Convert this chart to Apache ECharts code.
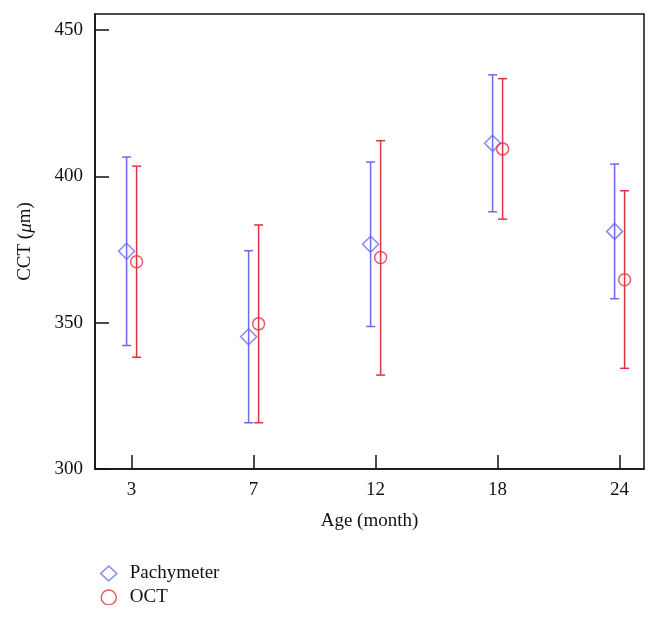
<!DOCTYPE html>
<html>
<head>
<meta charset="utf-8">
<script src="https://cdn.jsdelivr.net/npm/echarts@6/dist/echarts.min.js"></script>
<style>
html,body{margin:0;padding:0;background:#fff;}
#wrap{width:660px;height:605px;overflow:hidden;}
#c{width:660px;height:618px;}
</style>
</head>
<body>
<div id="wrap"><div id="c"></div></div>
<script>
var categories = ['3', '7', '12', '18', '24'];
var yTicks = [300, 350, 400, 450];
var pachyMean = [374.4, 345.2, 376.8, 411.3, 381.2];
var pachyLow  = [342.2, 315.8, 348.7, 387.9, 358.2];
var pachyHigh = [406.6, 374.6, 404.9, 434.7, 404.2];
var octMean = [370.8, 349.6, 372.3, 409.4, 364.7];
var octLow  = [338.2, 315.8, 332.1, 385.4, 334.4];
var octHigh = [403.5, 383.4, 412.2, 433.4, 395.1];

var BLUE = '#6a6aee';
var RED = '#e2343c';
var FONT = '"Liberation Serif", "DejaVu Serif", serif';
var FS = 19;

function idx(arr) { return arr.map(function (v, i) { return [i, v]; }); }
function errData(lo, hi) { return lo.map(function (v, i) { return [i, v, hi[i]]; }); }

function errRender(dx, color) {
  return function (params, api) {
    var x = api.value(0);
    var lo = api.coord([x, api.value(1)]);
    var hi = api.coord([x, api.value(2)]);
    var cx = lo[0] + dx;
    var cap = 4.5;
    var style = { stroke: color, lineWidth: 1.5, fill: null };
    return {
      type: 'group',
      children: [
        { type: 'line', shape: { x1: cx, y1: lo[1], x2: cx, y2: hi[1] }, style: style },
        { type: 'line', shape: { x1: cx - cap, y1: lo[1], x2: cx + cap, y2: lo[1] }, style: style },
        { type: 'line', shape: { x1: cx - cap, y1: hi[1], x2: cx + cap, y2: hi[1] }, style: style }
      ]
    };
  };
}

var chart = echarts.init(document.getElementById('c'), null, { renderer: 'canvas' });
chart.setOption({
  animation: false,
  backgroundColor: '#fff',
  textStyle: { fontFamily: FONT },
  grid: { left: 95, top: 14, right: 16, bottom: 149, show: true, borderColor: '#111', borderWidth: 1.5 },
  xAxis: {
    type: 'value', min: -0.3, max: 4.2,
    name: 'Age (month)', nameLocation: 'middle', nameGap: 43,
    nameTextStyle: { fontFamily: FONT, fontSize: FS, color: '#111' },
    axisLine: { show: true, onZero: false, lineStyle: { color: '#111', width: 1.5 } },
    axisTick: { show: true, inside: true, length: 14, lineStyle: { color: '#111', width: 1.5 }, customValues: [0, 1, 2, 3, 4] },
    axisLabel: { customValues: [0, 1, 2, 3, 4], fontFamily: FONT, fontSize: FS, color: '#111', margin: 12,
      formatter: function (v) { return categories[Math.round(v)]; } },
    splitLine: { show: false }
  },
  yAxis: {
    type: 'value', min: 300, max: 455.5,
    name: 'CCT ({i|μ}m)', nameLocation: 'middle', nameGap: 60,
    nameTextStyle: { fontFamily: FONT, fontSize: FS, color: '#111',
      rich: { i: { fontFamily: FONT, fontSize: FS, fontStyle: 'italic', color: '#111' } } },
    axisLine: { show: true, onZero: false, lineStyle: { color: '#111', width: 1.5 } },
    axisTick: { show: true, inside: true, length: 14, lineStyle: { color: '#111', width: 1.5 }, customValues: yTicks },
    axisLabel: { customValues: yTicks, fontFamily: FONT, fontSize: FS, color: '#111', margin: 12 },
    splitLine: { show: false }
  },
  legend: {
    orient: 'vertical', left: 95, top: 559, itemWidth: 16, itemHeight: 15, itemGap: 5,
    textStyle: { fontFamily: FONT, fontSize: FS, color: '#111', padding: [0, 0, 0, 8] },
    data: [
      { name: 'Pachymeter', icon: 'diamond', itemStyle: { color: 'rgba(255,255,255,0)', borderColor: BLUE, borderWidth: 1.5 } },
      { name: 'OCT', icon: 'circle', itemStyle: { color: 'rgba(255,255,255,0)', borderColor: RED, borderWidth: 1.5 } }
    ]
  },
  series: [
    { type: 'custom', name: 'pachyErr', renderItem: errRender(-5, BLUE), data: errData(pachyLow, pachyHigh), z: 2 },
    { type: 'custom', name: 'octErr', renderItem: errRender(5, RED), data: errData(octLow, octHigh), z: 2 },
    { type: 'scatter', name: 'Pachymeter', data: idx(pachyMean), symbol: 'diamond', symbolSize: 16, symbolOffset: [-5, 0],
      itemStyle: { color: 'rgba(255,255,255,0)', borderColor: BLUE, borderWidth: 1.5 }, z: 3 },
    { type: 'scatter', name: 'OCT', data: idx(octMean), symbol: 'circle', symbolSize: 12, symbolOffset: [5, 0],
      itemStyle: { color: 'rgba(255,255,255,0)', borderColor: RED, borderWidth: 1.5 }, z: 3 }
  ]
});
</script>
</body>
</html>
